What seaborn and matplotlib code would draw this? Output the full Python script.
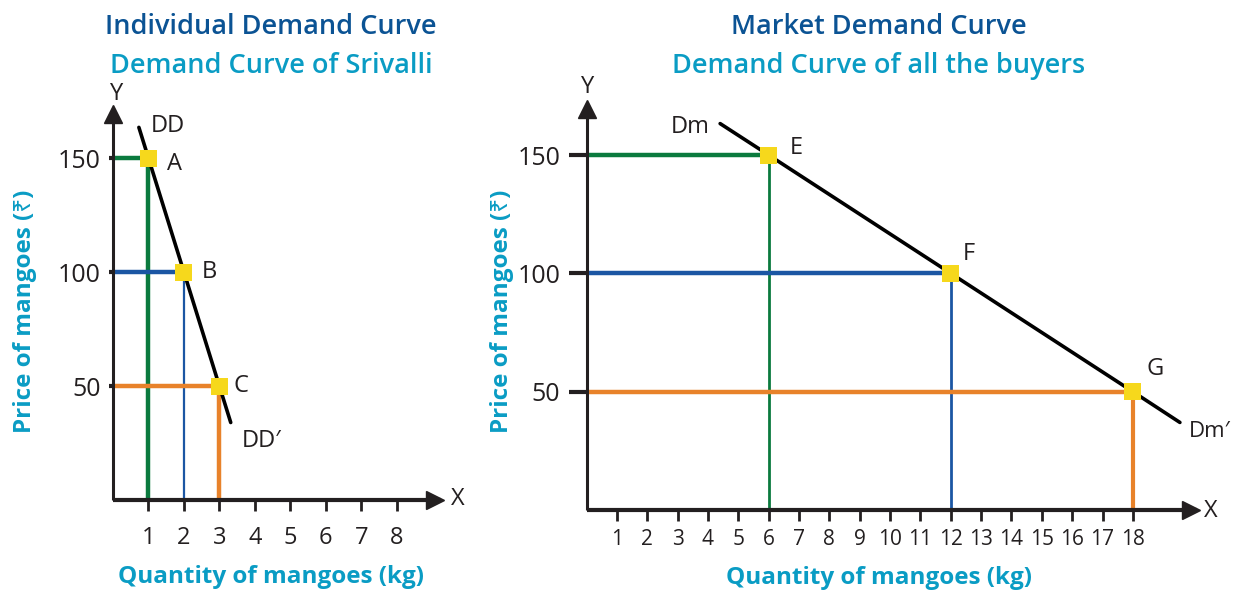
import matplotlib
matplotlib.use("Agg")
import matplotlib.pyplot as plt
import matplotlib.transforms as mtransforms
import seaborn as sns

# Individual demand schedule (Srivalli)
ind_qty = [1, 2, 3]
ind_price = [150, 100, 50]
ind_points = ["A", "B", "C"]
# demand curve DD -> DD' drawn through the schedule
dd_qty = [0.73, 1, 2, 3, 3.32]
dd_price = [163.5, 150, 100, 50, 34]

# Market demand schedule (all buyers)
mkt_qty = [6, 12, 18]
mkt_price = [150, 100, 50]
mkt_points = ["E", "F", "G"]
# market demand curve Dm -> Dm'
dm_qty = [4.4, 6, 12, 18, 19.55]
dm_price = [163.3, 150, 100, 50, 37]

ind_xticks = [1, 2, 3, 4, 5, 6, 7, 8]
mkt_xticks = list(range(1, 19))
price_ticks = [50, 100, 150]

sns.set_theme(style="white")
plt.rcParams["font.family"] = ["Open Sans", "Noto Sans", "DejaVu Sans"]

INK = "#231f20"
TITLE_BLUE = "#0b5394"
CYAN = "#0a9cc4"
GUIDE = ["#0b7a3e", "#1b56a3", "#e8822a"]
MARK = "#f6d81c"
PT = 72 / 100  # points per pixel

fig = plt.figure(figsize=(12.4, 5.91), dpi=100)
ax1 = fig.add_axes([113 / 1240, 91 / 591, 328 / 1240, 392 / 591])
ax2 = fig.add_axes([586.6 / 1240, 81 / 591, 610 / 1240, 407 / 591])


def frame(ax, xmax, ymax, xticks, xpad, ypad, ytick_len):
    ax.set_xlim(0, xmax)
    ax.set_ylim(0, ymax)
    for s in ["top", "right", "left", "bottom"]:
        ax.spines[s].set_visible(False)
    ax.set_facecolor("none")
    # axes drawn as arrows, heads ending at the axes edges
    ax.plot([0, xmax], [0, 0], color=INK, lw=3, solid_capstyle="butt", zorder=6, clip_on=False)
    ax.plot([0, 0], [0, ymax], color=INK, lw=2.2, solid_capstyle="butt", zorder=6, clip_on=False)
    back_x = mtransforms.ScaledTranslation(-6 / 100, 0, fig.dpi_scale_trans)
    back_y = mtransforms.ScaledTranslation(0, -6 / 100, fig.dpi_scale_trans)
    ax.plot(1, 0, ">", color=INK, ms=13, transform=ax.get_yaxis_transform() + back_x, clip_on=False, zorder=7)
    ax.plot(0, 1, "^", color=INK, ms=13, transform=ax.get_xaxis_transform() + back_y, clip_on=False, zorder=7)
    ax.set_xticks(xticks)
    ax.set_yticks(price_ticks)
    ax.tick_params(axis="x", bottom=True, direction="out", length=8, width=2, color=INK, pad=xpad, labelcolor=INK)
    ax.tick_params(axis="y", left=True, direction="out", length=ytick_len, width=3, color=INK, pad=ypad,
                   labelcolor=INK, labelsize=18)
    ax.grid(False)
    ax.set_xlabel("")
    ax.set_ylabel("")


def guides(ax, qty, price, vlw):
    for q, p, c, w in zip(qty, price, GUIDE, vlw):
        ax.hlines(p, 0, q, color=c, lw=3.2, zorder=2)
        ax.vlines(q, 0, p, color=c, lw=w, zorder=2)


# ---- Individual demand curve ----
frame(ax1, 9.25, 172, ind_xticks, 11, 6, 3)
ax1.tick_params(axis="x", labelsize=17)
guides(ax1, ind_qty, ind_price, [3.2, 1.6, 3.2])
sns.lineplot(x=dd_qty, y=dd_price, ax=ax1, color="black", lw=2.6, zorder=3, sort=False)
sns.scatterplot(x=ind_qty, y=ind_price, ax=ax1, marker="s", s=150, color=MARK, edgecolor="none", zorder=5)
for q, p, t, (dx, dy) in zip(ind_qty, ind_price, ind_points, [(26, -6), (25, 0), (22, 0)]):
    ax1.annotate(t, (q, p), xytext=(dx * PT, dy * PT), textcoords="offset points", va="center", ha="center",
                 fontsize=17, color=INK)
ax1.text(1.55, 164, "DD", fontsize=17, color=INK, ha="center", va="center")
ax1.text(4.2, 26, "DD\u2032", fontsize=17, color=INK, ha="center", va="center")

# ---- Market demand curve ----
frame(ax2, 20.1, 172, mkt_xticks, 6, 6, 13)
ax2.tick_params(axis="x", labelsize=15)
guides(ax2, mkt_qty, mkt_price, [2.0, 2.0, 3.0])
sns.lineplot(x=dm_qty, y=dm_price, ax=ax2, color="black", lw=2.6, zorder=3, sort=False)
sns.scatterplot(x=mkt_qty, y=mkt_price, ax=ax2, marker="s", s=150, color=MARK, edgecolor="none", zorder=5)
for q, p, t, (dx, dy) in zip(mkt_qty, mkt_price, mkt_points, [(28, 7), (18, 19), (22, 23)]):
    ax2.annotate(t, (q, p), xytext=(dx * PT, dy * PT), textcoords="offset points", va="center", ha="center",
                 fontsize=17, color=INK)
ax2.text(3.4, 162, "Dm", fontsize=17, color=INK, ha="center", va="center")
ax2.text(19.85, 33, "Dm\u2032", fontsize=16, color=INK, ha="left", va="center")

# axis letters and titles in figure pixels
def ftext(x, y, s, **kw):
    fig.text(x / 1240, 1 - y / 591, s, **kw)

ftext(117, 94, "Y", fontsize=17, color=INK, ha="center", va="center")
ftext(458, 499, "X", fontsize=17, color=INK, ha="center", va="center")
ftext(588, 87, "Y", fontsize=17, color=INK, ha="center", va="center")
ftext(1211, 511, "X", fontsize=17, color=INK, ha="center", va="center")

ftext(271, 27, "Individual Demand Curve", fontsize=19.5, color=TITLE_BLUE, weight="semibold", ha="center", va="center")
ftext(271, 66, "Demand Curve of Srivalli", fontsize=19.5, color=CYAN, weight="semibold", ha="center", va="center")
ftext(879, 27, "Market Demand Curve", fontsize=19.5, color=TITLE_BLUE, weight="semibold", ha="center", va="center")
ftext(879, 66, "Demand Curve of all the buyers", fontsize=19.5, color=CYAN, weight="semibold", ha="center", va="center")

lab = dict(fontsize=17.5, color=CYAN, weight="bold", ha="center", va="center",
           family=["Open Sans", "Noto Sans", "DejaVu Sans"])
ftext(25, 311, "Price of mangoes (\u20b9)", rotation=90, **lab)
ftext(502, 311, "Price of mangoes (\u20b9)", rotation=90, **lab)
ftext(271, 577, "Quantity of mangoes (kg)", **lab)
ftext(879, 578, "Quantity of mangoes (kg)", **lab)

fig.savefig("out.png", dpi=100, facecolor="white")
